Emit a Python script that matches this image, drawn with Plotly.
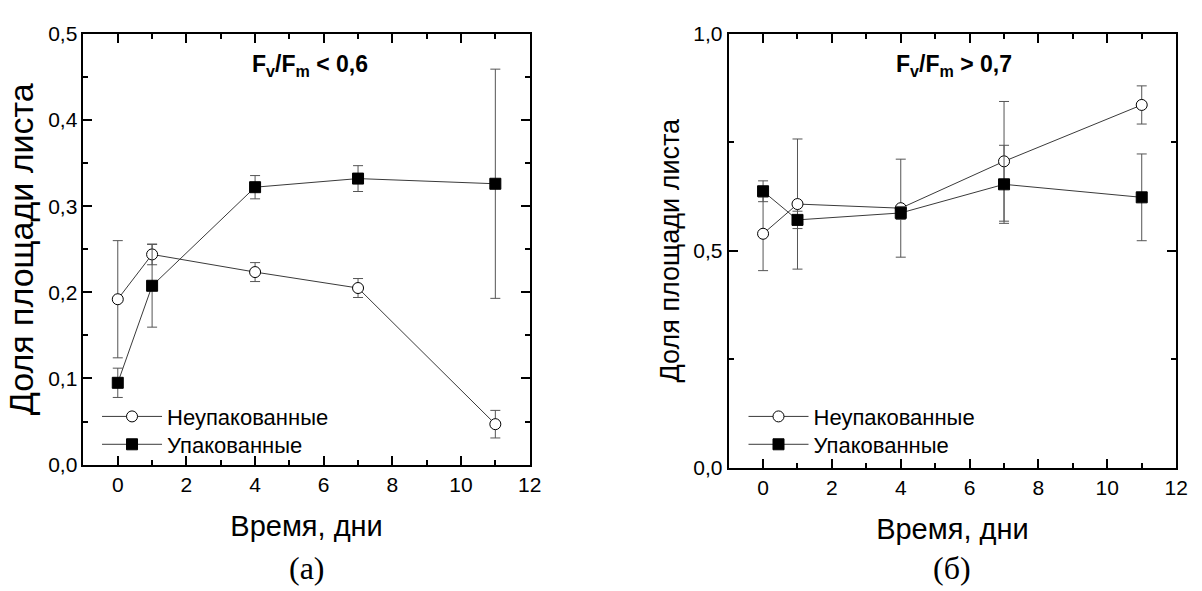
import plotly.graph_objects as go

# ---- data ----
days = [0, 1, 4, 7, 11]

# panel (а): Fv/Fm < 0,6
a_unpacked = [0.192, 0.244, 0.2235, 0.205, 0.047]
a_unpacked_err = [0.068, 0.012, 0.011, 0.011, 0.016]
a_packed = [0.095, 0.2076, 0.322, 0.332, 0.326]
a_packed_err = [0.017, 0.048, 0.0135, 0.015, 0.133]

# panel (б): Fv/Fm > 0,7
b_unpacked = [0.539, 0.6075, 0.598, 0.706, 0.836]
b_unpacked_err = [0.085, 0.15, 0.113, 0.138, 0.044]
b_packed = [0.637, 0.571, 0.587, 0.653, 0.623]
b_packed_err = [0.024, 0.02, 0.015, 0.09, 0.10]

series_names = ["Неупакованные", "Упакованные"]
x_title = "Время, дни"
y_title = "Доля площади листа"
panel_notes = ["<b>F<sub>v</sub>/F<sub>m</sub> &lt; 0,6</b>", "<b>F<sub>v</sub>/F<sub>m</sub> &gt; 0,7</b>"]
panel_captions = ["(а)", "(б)"]

W, H = 1202, 591
FONT = "Liberation Sans, Arial, sans-serif"
SERIF = "Liberation Serif, Times New Roman, serif"
LINE_C = "#3a3a3a"
ERR_C = "#555555"

fig = go.Figure()


def add_series(y, err, name, symbol, fill, xa, ya, legend):
    fig.add_trace(go.Scatter(
        x=days, y=y, name=name, mode="lines+markers",
        xaxis=xa, yaxis=ya, legend=legend,
        line=dict(color=LINE_C, width=1),
        marker=dict(symbol=symbol, size=11, color=fill,
                    line=dict(color="black", width=1)),
        error_y=dict(type="data", array=err, visible=True,
                     color=ERR_C, thickness=1, width=5),
    ))


add_series(a_unpacked, a_unpacked_err, series_names[0], "circle", "white", "x", "y", "legend")
add_series(a_packed, a_packed_err, series_names[1], "square", "black", "x", "y", "legend3")
add_series(b_unpacked, b_unpacked_err, series_names[0], "circle", "white", "x2", "y2", "legend2")
add_series(b_packed, b_packed_err, series_names[1], "square", "black", "x2", "y2", "legend4")


def xaxis(domain, anchor):
    return dict(
        domain=domain, anchor=anchor, range=[-1, 12], tick0=0, dtick=2,
        showline=True, linecolor="black", linewidth=1.8, mirror="allticks",
        ticks="inside", ticklen=9, tickwidth=1.5, tickcolor="black",
        minor=dict(ticks="inside", dtick=1, ticklen=5, tickwidth=1.5, tickcolor="black"),
        showgrid=False, zeroline=False,
        tickfont=dict(family=FONT, size=21, color="black"),
        title=dict(text=x_title, font=dict(family=FONT, size=29, color="black"), standoff=21),
        fixedrange=True,
    )


def yaxis(domain, anchor, rng, dtick, mdtick, tsize, standoff):
    return dict(
        domain=domain, anchor=anchor, range=rng, tick0=0, dtick=dtick,
        tickformat=".1f",
        showline=True, linecolor="black", linewidth=1.8, mirror="allticks",
        ticks="inside", ticklen=9, tickwidth=1.5, tickcolor="black",
        minor=dict(ticks="inside", dtick=mdtick, ticklen=5, tickwidth=1.5, tickcolor="black"),
        showgrid=False, zeroline=False,
        tickfont=dict(family=FONT, size=21, color="black"),
        title=dict(text=y_title, font=dict(family=FONT, size=tsize, color="black"), standoff=standoff),
        fixedrange=True,
    )


def legend_at(x_px, y_px):
    return dict(x=x_px / W, y=1 - y_px / H, xanchor="left", yanchor="middle",
                bgcolor="rgba(0,0,0,0)", font=dict(family=FONT, size=22, color="black"),
                tracegroupgap=0, itemwidth=60)


fig.update_layout(
    width=W, height=H,
    margin=dict(l=0, r=0, t=0, b=0),
    paper_bgcolor="white", plot_bgcolor="white",
    separators=", ",
    font=dict(family=FONT, color="black"),
    xaxis=xaxis([84.3 / W, 535 / W], "y"),
    yaxis=yaxis([1 - 471 / H, 1 - 22.7 / H], "x", [0, 0.5], 0.1, 0.05, 34, 4),
    xaxis2=xaxis([736 / W, 1188 / W], "y2"),
    yaxis2=yaxis([1 - 474 / H, 1 - 22.7 / H], "x2", [0, 1.0], 0.5, 0.25, 27, 6),
    legend=legend_at(98, 421),
    legend3=legend_at(98, 450),
    legend2=legend_at(751, 421),
    legend4=legend_at(751, 450),
    showlegend=True,
)

# panel notes (in data coordinates of each panel)
fig.add_annotation(x=5.6, y=0.463, xref="x", yref="y", text=panel_notes[0], showarrow=False,
                   xanchor="center", yanchor="middle",
                   font=dict(family=FONT, size=23, color="black"))
fig.add_annotation(x=5.55, y=0.926, xref="x2", yref="y2", text=panel_notes[1], showarrow=False,
                   xanchor="center", yanchor="middle",
                   font=dict(family=FONT, size=23, color="black"))

# captions below panels
fig.add_annotation(x=(84.3 + 535) / 2 / W, y=1 - 579 / H, xref="paper", yref="paper",
                   text=panel_captions[0], showarrow=False, xanchor="center", yanchor="middle",
                   font=dict(family=SERIF, size=32, color="black"))
fig.add_annotation(x=(736 + 1188) / 2 / W, y=1 - 579 / H, xref="paper", yref="paper",
                   text=panel_captions[1], showarrow=False, xanchor="center", yanchor="middle",
                   font=dict(family=SERIF, size=32, color="black"))

fig.write_html("out.html")
